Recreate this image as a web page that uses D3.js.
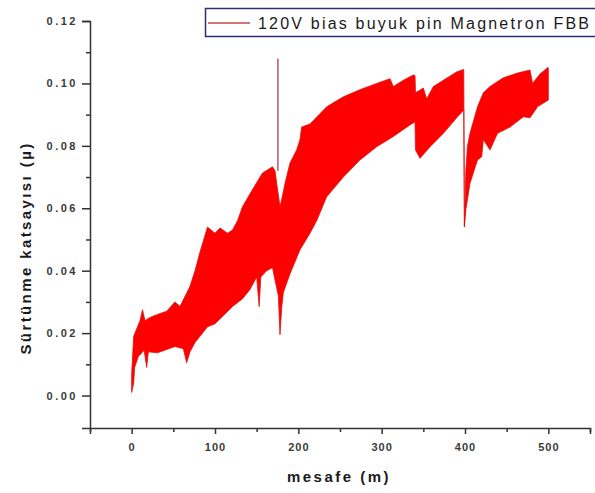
<!DOCTYPE html>
<html>
<head>
<meta charset="utf-8">
<script src="https://cdn.jsdelivr.net/npm/d3@7"></script>
<style>
  html, body { margin: 0; padding: 0; background: #fff; }
  svg { display: block; }
  .tick text { font-family: "Liberation Sans", Arial, sans-serif; font-weight: bold; font-size: 11px; fill: #3a3a3a; }
</style>
</head>
<body>
<div id="chart"></div>
<script>
// ---- data (distance in m, friction coefficient) ----
const upperX = [0, 2.4, 10, 13, 16, 22, 31, 42, 52, 58, 70, 76, 82, 91, 100, 106, 115, 121, 127, 133, 145, 157, 169, 172, 174, 178, 181, 184, 190, 198, 202, 204, 214, 234, 254, 274, 294, 310, 314, 326, 338, 340, 340.6, 350, 354, 362, 374, 390, 398.5, 399.3, 401, 403, 406, 415, 422, 430, 446, 463, 478, 481, 490, 499, 500];
const upperY = [0.007, 0.019, 0.024, 0.0275, 0.024, 0.025, 0.026, 0.027, 0.030, 0.0285, 0.035, 0.040, 0.046, 0.054, 0.052, 0.0537, 0.052, 0.053, 0.056, 0.0605, 0.066, 0.0713, 0.0733, 0.072, 0.068, 0.0605, 0.064, 0.068, 0.0745, 0.0787, 0.082, 0.086, 0.087, 0.0925, 0.0957, 0.098, 0.100, 0.1015, 0.099, 0.101, 0.1027, 0.1025, 0.097, 0.0985, 0.095, 0.099, 0.101, 0.1037, 0.1045, 0.054, 0.072, 0.080, 0.084, 0.0925, 0.097, 0.099, 0.1018, 0.1033, 0.1043, 0.100, 0.103, 0.105, 0.105];
const lowerX = [0, 2.4, 3.6, 8, 15, 18, 20, 31, 52, 62, 66, 70, 76, 91, 100, 121, 133, 142, 150, 153, 155, 162, 169, 172, 176, 178, 180, 182, 190, 202, 214, 222, 234, 254, 274, 294, 314, 334, 340, 340.6, 346, 358, 374, 391, 398.5, 399.3, 401, 406, 415, 420, 422, 430, 439, 454, 470, 478, 487, 500];
const lowerY = [0.001, 0.004, 0.009, 0.0125, 0.0145, 0.009, 0.014, 0.0137, 0.0157, 0.015, 0.0105, 0.014, 0.017, 0.022, 0.023, 0.0285, 0.031, 0.034, 0.038, 0.0285, 0.038, 0.040, 0.041, 0.037, 0.032, 0.0195, 0.028, 0.033, 0.039, 0.0467, 0.052, 0.056, 0.0637, 0.070, 0.0755, 0.0797, 0.083, 0.0867, 0.0877, 0.0787, 0.076, 0.0797, 0.084, 0.0893, 0.0915, 0.054, 0.0595, 0.068, 0.0755, 0.0765, 0.082, 0.0787, 0.084, 0.086, 0.0893, 0.089, 0.0925, 0.0947];
const spikeX = [175.5, 175.5];
const spikeY = [0.072, 0.108];

const xTicks = [0, 100, 200, 300, 400, 500];
const xMinor = [-50, 50, 150, 250, 350, 450, 550];
const yTicks = [0.00, 0.02, 0.04, 0.06, 0.08, 0.10, 0.12];
const yMinor = [0.01, 0.03, 0.05, 0.07, 0.09, 0.11];
const seriesName = "120V bias buyuk pin Magnetron FBB";
const xTitle = "mesafe (m)";
const yTitle = "Sürtünme katsayısı (µ)";

// ---- layout ----
const W = 595, H = 493;
const svg = d3.select("#chart").append("svg").attr("width", W).attr("height", H);

const x = d3.scaleLinear().domain([-50, 550]).range([90, 590]);
const y = d3.scaleLinear().domain([-0.0104, 0.12]).range([428, 21]);

// band polygon: upper envelope forward, lower envelope backward
const pts = upperX.map((d, i) => [d, upperY[i]])
  .concat(lowerX.map((d, i) => [d, lowerY[i]]).reverse());
const line = d3.line().x(d => x(d[0])).y(d => y(d[1]));

svg.append("path")
  .attr("d", line(pts) + "Z")
  .attr("fill", "#ff0000")
  .attr("stroke", "#e01010")
  .attr("stroke-width", 0.8)
  .attr("stroke-linejoin", "round");

svg.append("path")
  .attr("d", line(spikeX.map((d, i) => [d, spikeY[i]])))
  .attr("stroke", "#9a3040")
  .attr("stroke-width", 1.2)
  .attr("fill", "none");

// ---- axes ----
const axisColor = "#333";
const gx = svg.append("g").attr("transform", "translate(0,428)")
  .call(d3.axisBottom(x).tickValues(xTicks).tickSize(6).tickPadding(9).tickFormat(d3.format("d")));
const gxm = svg.append("g").attr("transform", "translate(0,428)")
  .call(d3.axisBottom(x).tickValues(xMinor).tickSize(4).tickFormat(""));
const gy = svg.append("g").attr("transform", "translate(90,0)")
  .call(d3.axisLeft(y).tickValues(yTicks).tickSize(8).tickPadding(4).tickFormat(d3.format(".2f")));
const gym = svg.append("g").attr("transform", "translate(90,0)")
  .call(d3.axisLeft(y).tickValues(yMinor).tickSize(4).tickFormat(""));

[gx, gxm, gy, gym].forEach(g => {
  g.select(".domain").attr("stroke", axisColor).attr("stroke-width", 1.5);
  g.selectAll(".tick line").attr("stroke", axisColor).attr("stroke-width", 1.5);
});
gxm.select(".domain").remove();
gym.select(".domain").remove();
gx.selectAll(".tick text").attr("letter-spacing", "1px");
gy.selectAll(".tick text").attr("letter-spacing", "2.5px");

// ---- titles ----
svg.append("text")
  .attr("x", 339).attr("y", 482)
  .attr("text-anchor", "middle")
  .attr("font-family", "Liberation Sans, Arial, sans-serif")
  .attr("font-weight", "bold").attr("font-size", 15)
  .attr("letter-spacing", "2.5px")
  .attr("fill", "#1a1a1a")
  .text(xTitle);

svg.append("text")
  .attr("transform", "translate(31,248) rotate(-90)")
  .attr("text-anchor", "middle")
  .attr("font-family", "Liberation Sans, Arial, sans-serif")
  .attr("font-weight", "bold").attr("font-size", 15)
  .attr("letter-spacing", "2.4px")
  .attr("fill", "#1a1a1a")
  .text(yTitle);

// ---- legend ----
const lg = svg.append("g");
lg.append("rect")
  .attr("x", 205.5).attr("y", 8.5).attr("width", 400).attr("height", 28)
  .attr("fill", "#fff").attr("stroke", "#2e2e6e").attr("stroke-width", 1.5);
lg.append("line")
  .attr("x1", 208).attr("x2", 250).attr("y1", 23).attr("y2", 23)
  .attr("stroke", "#c04848").attr("stroke-width", 1.3);
lg.append("text")
  .attr("x", 258).attr("y", 29)
  .attr("font-family", "Liberation Sans, Arial, sans-serif")
  .attr("font-size", 16)
  .attr("letter-spacing", "2.2px")
  .attr("fill", "#1a1a1a")
  .text(seriesName);
</script>
</body>
</html>
